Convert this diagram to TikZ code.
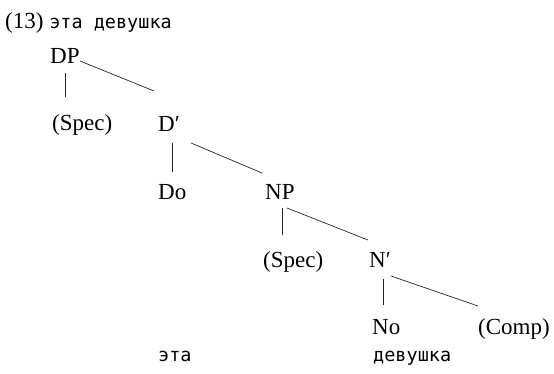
\documentclass[tikz,border=0pt]{standalone}
\usepackage{fontspec}
\setmainfont{Liberation Serif}
\newfontfamily\rufont{DejaVu Sans Mono}
\usetikzlibrary{calc}
\tikzset{
  lab/.style={anchor=base west, inner sep=0pt, font=\fontsize{23}{27}\selectfont},
  rulab/.style={anchor=base west, inner sep=0pt, font=\rufont\fontsize{18.5}{22}\selectfont},
  branch/.style={draw=black!85, line width=0.7pt}
}
\begin{document}
\begin{tikzpicture}[x=1pt, y=-1pt]
  \useasboundingbox (0,0) rectangle (554,373);
  % heading
  \node[lab] (title) at (5,28) {(13)\hspace{0.25em}{\rufont\fontsize{18.5}{22}\selectfont эта девушка}};
  % tree labels
  \node[lab] (dp)    at (50,63)   {DP};
  \node[lab] (spec1) at (52,130)  {(Spec)};
  \node[lab] (dbar)  at (158,131) {D′};
  \node[lab] (do)    at (158,199) {Do};
  \node[lab] (np)    at (265,199) {NP};
  \node[lab] (spec2) at (263,267) {(Spec)};
  \node[lab] (nbar)  at (369,267) {N′};
  \node[lab] (no)    at (372,334) {No};
  \node[lab] (comp)  at (478,334) {(Comp)};
  % words under the heads
  \node[rulab] (w1) at (158,361) {эта};
  \node[rulab] (w2) at (373,361) {девушка};
  % branches
  \draw[branch] ($(dp.base west)+(15,10)$) -- ($(spec1.base west)+(13,-33)$);
  \draw[branch] ($(dp.base west)+(30,-2)$) -- ($(dbar.base west)+(-4,-40)$);
  \draw[branch] ($(dbar.base west)+(14,12)$) -- ($(do.base west)+(14,-27)$);
  \draw[branch] ($(dbar.base west)+(33,12)$) -- ($(np.base west)+(-3,-26)$);
  \draw[branch] ($(np.base west)+(17,9)$) -- ($(spec2.base west)+(19,-32)$);
  \draw[branch] ($(np.base west)+(22,9)$) -- ($(nbar.base west)+(-1,-27)$);
  \draw[branch] ($(nbar.base west)+(14,12)$) -- ($(no.base west)+(11,-29)$);
  \draw[branch] ($(nbar.base west)+(22,9)$) -- ($(comp.base west)+(0,-28)$);
\end{tikzpicture}
\end{document}
